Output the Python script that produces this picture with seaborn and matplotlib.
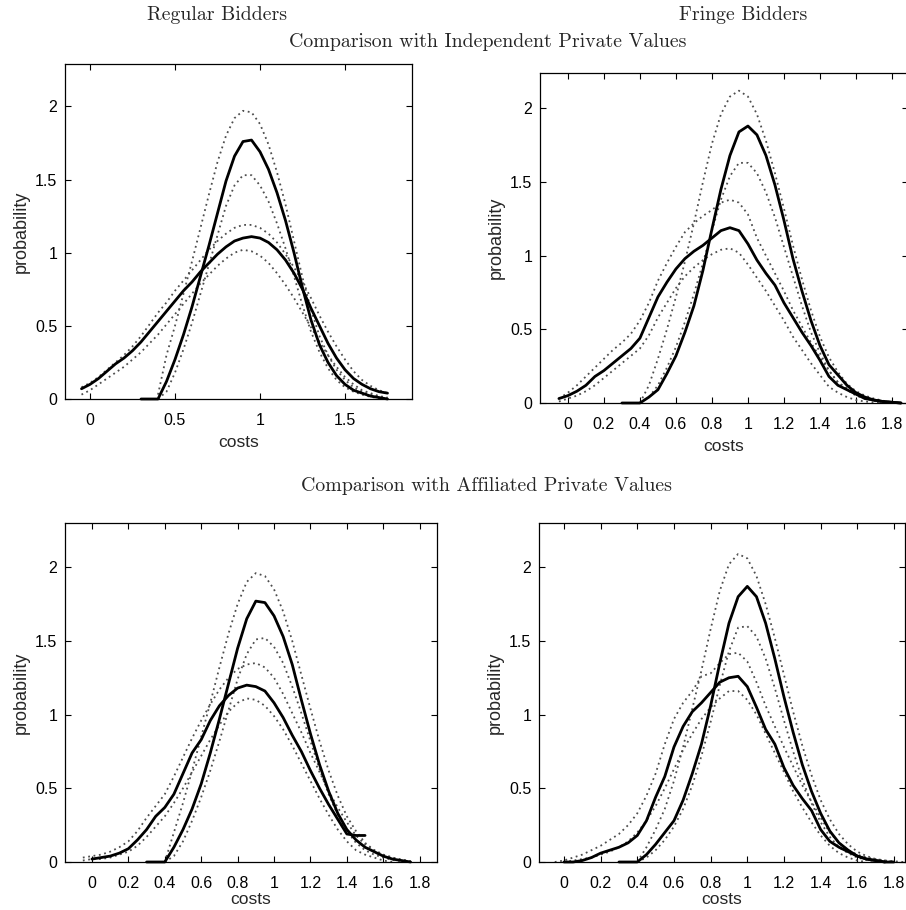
import matplotlib
matplotlib.use("Agg")
import matplotlib.pyplot as plt
import pandas as pd
import seaborn as sns

N = None
# cost grid shared by all estimated densities
costs = [-0.10, -0.05, 0.00, 0.05, 0.10, 0.15, 0.20, 0.25, 0.30, 0.35,
         0.40, 0.45, 0.50, 0.55, 0.60, 0.65, 0.70, 0.75, 0.80, 0.85,
         0.90, 0.95, 1.00, 1.05, 1.10, 1.15, 1.20, 1.25, 1.30, 1.35,
         1.40, 1.45, 1.50, 1.55, 1.60, 1.65, 1.70, 1.75, 1.80, 1.85]

# ---- Independent private values, regular bidders ----
ipv_reg_peak = [N, N, N, N, N, N, N, N, 0, 0,
                0, 0.12, 0.27, 0.44, 0.63, 0.84, 1.05, 1.27, 1.49, 1.66,
                1.76, 1.77, 1.69, 1.57, 1.41, 1.22, 1.00, 0.76, 0.54, 0.37,
                0.25, 0.16, 0.10, 0.06, 0.04, 0.02, 0.01, 0.0, N, N]
ipv_reg_peak_hi = [N, N, N, N, N, N, N, N, N, N,
                   0.03, 0.30, 0.50, 0.72, 0.94, 1.17, 1.40, 1.62, 1.80, 1.92,
                   1.97, 1.96, 1.88, 1.74, 1.55, 1.33, 1.08, 0.83, 0.61, 0.43,
                   0.30, 0.20, 0.13, 0.08, 0.05, 0.03, 0.015, 0.005, N, N]
ipv_reg_peak_lo = [N, N, N, N, N, N, N, N, N, N,
                   0.0, 0.05, 0.18, 0.34, 0.52, 0.72, 0.92, 1.12, 1.32, 1.46,
                   1.53, 1.53, 1.46, 1.35, 1.20, 1.03, 0.84, 0.64, 0.46, 0.32,
                   0.21, 0.13, 0.08, 0.05, 0.03, 0.015, 0.005, N, N, N]
ipv_reg_flat = [N, 0.07, 0.10, 0.14, 0.19, 0.24, 0.28, 0.33, 0.39, 0.46,
                0.53, 0.60, 0.67, 0.74, 0.80, 0.87, 0.93, 0.99, 1.04, 1.08,
                1.10, 1.11, 1.10, 1.07, 1.02, 0.95, 0.86, 0.75, 0.62, 0.50,
                0.38, 0.28, 0.20, 0.14, 0.10, 0.07, 0.05, 0.04, N, N]
ipv_reg_flat_hi = [N, 0.08, 0.11, 0.15, 0.20, 0.25, 0.30, 0.36, 0.43, 0.51,
                   0.59, 0.66, 0.74, 0.81, 0.88, 0.95, 1.02, 1.08, 1.13, 1.17,
                   1.19, 1.19, 1.17, 1.13, 1.07, 0.99, 0.90, 0.80, 0.69, 0.57,
                   0.46, 0.36, 0.27, 0.19, 0.13, 0.09, 0.06, 0.04, N, N]
ipv_reg_flat_lo = [N, 0.03, 0.06, 0.10, 0.14, 0.18, 0.22, 0.27, 0.32, 0.38,
                   0.44, 0.51, 0.58, 0.65, 0.72, 0.79, 0.85, 0.91, 0.96, 1.00,
                   1.02, 1.01, 0.98, 0.93, 0.86, 0.78, 0.69, 0.59, 0.49, 0.39,
                   0.30, 0.22, 0.15, 0.10, 0.06, 0.04, 0.02, 0.01, N, N]

# ---- Independent private values, fringe bidders ----
ipv_fr_peak = [N, N, N, N, N, N, N, N, 0, 0,
               0, 0.04, 0.09, 0.20, 0.32, 0.48, 0.66, 0.90, 1.18, 1.45,
               1.68, 1.84, 1.88, 1.82, 1.68, 1.48, 1.24, 0.98, 0.76, 0.56,
               0.39, 0.26, 0.19, 0.12, 0.07, 0.04, 0.02, 0.01, 0.005, 0.0]
ipv_fr_peak_hi = [N, N, N, N, N, N, N, N, N, N,
                  0.0, 0.12, 0.30, 0.50, 0.72, 0.96, 1.22, 1.50, 1.76, 1.96,
                  2.08, 2.12, 2.08, 1.96, 1.78, 1.56, 1.32, 1.07, 0.84, 0.63,
                  0.45, 0.31, 0.21, 0.13, 0.08, 0.05, 0.03, 0.015, 0.005, 0.0]
ipv_fr_peak_lo = [N, N, N, N, N, N, N, N, N, N,
                  0.0, 0.04, 0.12, 0.24, 0.38, 0.55, 0.74, 0.95, 1.17, 1.38,
                  1.54, 1.63, 1.63, 1.56, 1.43, 1.26, 1.06, 0.86, 0.66, 0.48,
                  0.34, 0.22, 0.14, 0.09, 0.05, 0.03, 0.015, 0.005, 0.0, N]
ipv_fr_flat = [N, 0.03, 0.05, 0.08, 0.12, 0.18, 0.22, 0.27, 0.32, 0.37,
               0.44, 0.58, 0.72, 0.82, 0.91, 0.98, 1.03, 1.07, 1.12, 1.17,
               1.19, 1.17, 1.08, 0.97, 0.88, 0.80, 0.68, 0.58, 0.48, 0.39,
               0.29, 0.18, 0.12, 0.09, 0.06, 0.03, 0.02, 0.01, 0.005, 0.0]
ipv_fr_flat_hi = [N, 0.03, 0.07, 0.12, 0.18, 0.24, 0.30, 0.36, 0.41, 0.47,
                  0.56, 0.68, 0.83, 0.95, 1.06, 1.16, 1.22, 1.27, 1.31, 1.36,
                  1.38, 1.36, 1.28, 1.12, 1.00, 0.88, 0.76, 0.63, 0.52, 0.41,
                  0.31, 0.22, 0.14, 0.10, 0.07, 0.04, 0.02, 0.01, 0.005, 0.0]
ipv_fr_flat_lo = [N, 0.01, 0.03, 0.05, 0.08, 0.12, 0.17, 0.22, 0.27, 0.32,
                  0.37, 0.46, 0.58, 0.68, 0.78, 0.86, 0.92, 0.97, 1.01, 1.04,
                  1.05, 1.02, 0.94, 0.85, 0.76, 0.66, 0.56, 0.45, 0.36, 0.27,
                  0.19, 0.11, 0.07, 0.04, 0.02, 0.01, 0.005, 0.0, N, N]

# ---- Affiliated private values, regular bidders ----
apv_reg_peak = [N, N, N, N, N, N, N, N, 0, 0,
                0, 0.10, 0.22, 0.36, 0.53, 0.74, 0.97, 1.21, 1.45, 1.65,
                1.77, 1.76, 1.67, 1.53, 1.34, 1.10, 0.87, 0.66, 0.48, 0.33,
                0.22, 0.15, 0.10, 0.07, 0.04, 0.02, 0.01, 0.0, N, N]
apv_reg_peak_hi = [N, N, N, N, N, N, N, N, N, N,
                   0.0, 0.20, 0.40, 0.62, 0.85, 1.08, 1.32, 1.55, 1.75, 1.90,
                   1.96, 1.94, 1.85, 1.70, 1.50, 1.27, 1.04, 0.82, 0.62, 0.45,
                   0.31, 0.21, 0.13, 0.08, 0.05, 0.03, 0.015, 0.005, N, N]
apv_reg_peak_lo = [N, N, N, N, N, N, N, N, N, N,
                   0.0, 0.04, 0.14, 0.28, 0.44, 0.62, 0.82, 1.03, 1.24, 1.41,
                   1.51, 1.52, 1.46, 1.35, 1.19, 1.01, 0.82, 0.63, 0.46, 0.32,
                   0.21, 0.13, 0.08, 0.05, 0.03, 0.015, 0.005, N, N, N]
apv_reg_flat = [N, N, 0.02, 0.03, 0.04, 0.06, 0.09, 0.15, 0.22, 0.31,
                0.37, 0.46, 0.60, 0.74, 0.83, 0.96, 1.06, 1.13, 1.18, 1.20,
                1.19, 1.16, 1.08, 0.98, 0.86, 0.75, 0.62, 0.50, 0.39, 0.29,
                0.19, 0.18, 0.18, N, N, N, N, N, N, N]
apv_reg_flat_hi = [N, 0.03, 0.04, 0.05, 0.07, 0.10, 0.14, 0.21, 0.30, 0.38,
                   0.46, 0.58, 0.71, 0.84, 0.96, 1.07, 1.17, 1.25, 1.31, 1.34,
                   1.35, 1.32, 1.25, 1.14, 1.01, 0.88, 0.74, 0.61, 0.48, 0.37,
                   0.27, 0.18, 0.12, 0.08, 0.05, 0.03, 0.015, 0.005, N, N]
apv_reg_flat_lo = [N, 0.01, 0.02, 0.02, 0.03, 0.05, 0.07, 0.11, 0.17, 0.24,
                   0.31, 0.40, 0.50, 0.61, 0.72, 0.83, 0.93, 1.02, 1.08, 1.11,
                   1.10, 1.06, 0.99, 0.90, 0.79, 0.67, 0.55, 0.43, 0.32, 0.22,
                   0.14, 0.08, 0.05, 0.03, 0.01, 0.0, N, N, N, N]

# ---- Affiliated private values, fringe bidders ----
apv_fr_peak = [N, N, N, N, N, N, N, N, 0, 0,
               0, 0.05, 0.12, 0.20, 0.28, 0.42, 0.60, 0.80, 1.06, 1.35,
               1.62, 1.80, 1.87, 1.80, 1.62, 1.38, 1.12, 0.88, 0.66, 0.48,
               0.33, 0.21, 0.13, 0.08, 0.04, 0.02, 0.01, 0.0, 0.0, N]
apv_fr_peak_hi = [N, N, N, N, N, N, N, N, N, N,
                  0.0, 0.10, 0.22, 0.36, 0.55, 0.78, 1.04, 1.30, 1.58, 1.84,
                  2.02, 2.09, 2.06, 1.94, 1.75, 1.52, 1.27, 1.02, 0.79, 0.59,
                  0.42, 0.29, 0.19, 0.12, 0.07, 0.04, 0.02, 0.01, 0.0, N]
apv_fr_peak_lo = [N, N, N, N, N, N, N, N, N, N,
                  0.0, 0.03, 0.08, 0.15, 0.24, 0.36, 0.52, 0.72, 0.95, 1.20,
                  1.43, 1.59, 1.60, 1.53, 1.38, 1.18, 0.96, 0.75, 0.56, 0.40,
                  0.27, 0.17, 0.10, 0.06, 0.03, 0.015, 0.005, 0.0, N, N]
apv_fr_flat = [N, N, 0.0, 0.0, 0.01, 0.03, 0.06, 0.08, 0.10, 0.13,
               0.18, 0.28, 0.44, 0.58, 0.78, 0.92, 1.02, 1.08, 1.15, 1.22,
               1.25, 1.26, 1.19, 1.05, 0.90, 0.80, 0.64, 0.52, 0.43, 0.35,
               0.22, 0.14, 0.10, 0.07, 0.04, 0.02, 0.01, 0.0, N, N]
apv_fr_flat_hi = [N, 0.0, 0.01, 0.03, 0.05, 0.08, 0.11, 0.15, 0.19, 0.25,
                  0.33, 0.45, 0.60, 0.80, 0.97, 1.08, 1.16, 1.26, 1.28, 1.35,
                  1.41, 1.42, 1.36, 1.22, 1.06, 0.92, 0.78, 0.65, 0.52, 0.41,
                  0.30, 0.20, 0.13, 0.08, 0.05, 0.03, 0.02, 0.01, 0.005, 0.0]
apv_fr_flat_lo = [N, N, 0.0, 0.01, 0.02, 0.03, 0.05, 0.07, 0.10, 0.14,
                  0.20, 0.28, 0.38, 0.50, 0.63, 0.76, 0.87, 0.97, 1.05, 1.11,
                  1.16, 1.16, 1.10, 1.00, 0.87, 0.74, 0.61, 0.48, 0.37, 0.27,
                  0.18, 0.11, 0.06, 0.03, 0.01, 0.0, N, N, N, N]

xticks_coarse = [0, 0.5, 1, 1.5]
xtick_labels_coarse = ["0", "0.5", "1", "1.5"]
xticks_fine = [0, 0.2, 0.4, 0.6, 0.8, 1.0, 1.2, 1.4, 1.6, 1.8]
xtick_labels_fine = ["0", "0.2", "0.4", "0.6", "0.8", "1", "1.2", "1.4", "1.6", "1.8"]
yticks = [0, 0.5, 1, 1.5, 2]
ytick_labels = ["0", "0.5", "1", "1.5", "2"]

column_titles = ["Regular Bidders", "Fringe Bidders"]
row_titles = ["Comparison with Independent Private Values",
              "Comparison with Affiliated Private Values"]

sns.set_style("ticks")
plt.rcParams["font.family"] = ["Liberation Sans", "DejaVu Sans"]

fig = plt.figure(figsize=(9.06, 9.10), dpi=100)
W, H = 906.0, 910.0


def make_ax(left, top, right, bottom):
    return fig.add_axes([left / W, 1 - bottom / H, (right - left) / W, (bottom - top) / H])


panels = [
    (make_ax(65, 64, 412, 399), [ipv_reg_peak, ipv_reg_flat],
     [ipv_reg_peak_hi, ipv_reg_peak_lo, ipv_reg_flat_hi, ipv_reg_flat_lo],
     (-0.147, 1.894), 2.29, xticks_coarse, xtick_labels_coarse, 5),
    (make_ax(540, 73, 908, 403), [ipv_fr_peak, ipv_fr_flat],
     [ipv_fr_peak_hi, ipv_fr_peak_lo, ipv_fr_flat_hi, ipv_fr_flat_lo],
     (-0.155, 1.889), 2.24, xticks_fine, xtick_labels_fine, 5),
    (make_ax(65, 523, 437, 862), [apv_reg_peak, apv_reg_flat],
     [apv_reg_peak_hi, apv_reg_peak_lo, apv_reg_flat_hi, apv_reg_flat_lo],
     (-0.148, 1.895), 2.30, xticks_fine, xtick_labels_fine, 1),
    (make_ax(539, 523, 905, 862), [apv_fr_peak, apv_fr_flat],
     [apv_fr_peak_hi, apv_fr_peak_lo, apv_fr_flat_hi, apv_fr_flat_lo],
     (-0.136, 1.86), 2.30, xticks_fine, xtick_labels_fine, 1),
]


def curve_frame(vals):
    df = pd.DataFrame({"costs": costs, "probability": vals})
    return df.dropna()


for ax, solids, dots, xlim, ytop, xt, xtl, xpad in panels:
    for vals in dots:
        sns.lineplot(data=curve_frame(vals), x="costs", y="probability", ax=ax,
                     color="0.3", linewidth=1.3, linestyle=(0, (1, 2)),
                     sort=False, estimator=None, clip_on=False)
    for vals in solids:
        sns.lineplot(data=curve_frame(vals), x="costs", y="probability", ax=ax,
                     color="black", linewidth=2.0, sort=False, estimator=None,
                     clip_on=False)
    ax.set_xlim(*xlim)
    ax.set_ylim(0, ytop)
    ax.set_xticks(xt)
    ax.set_xticklabels(xtl)
    ax.set_yticks(yticks)
    ax.set_yticklabels(ytick_labels)
    ax.tick_params(direction="in", top=True, right=True, length=4, width=0.8,
                   labelsize=11.5, colors="black")
    ax.tick_params(axis="x", pad=10)
    ax.tick_params(axis="y", pad=5.5)
    for s in ax.spines.values():
        s.set_visible(True)
        s.set_linewidth(0.9)
        s.set_color("black")
    ax.set_xlabel("costs", fontsize=12.5, labelpad=xpad)
    ax.set_ylabel("probability", fontsize=13, labelpad=4)

title_kw = dict(family="cmr10", fontsize=14.3, ha="center", va="center")
fig.text(217 / W, 1 - 14.5 / H, column_titles[0], **title_kw)
fig.text(743 / W, 1 - 14.5 / H, column_titles[1], **title_kw)
fig.text(488 / W, 1 - 42 / H, row_titles[0], **title_kw)
fig.text(486 / W, 1 - 486 / H, row_titles[1], **title_kw)

fig.savefig("out.png", dpi=100)
